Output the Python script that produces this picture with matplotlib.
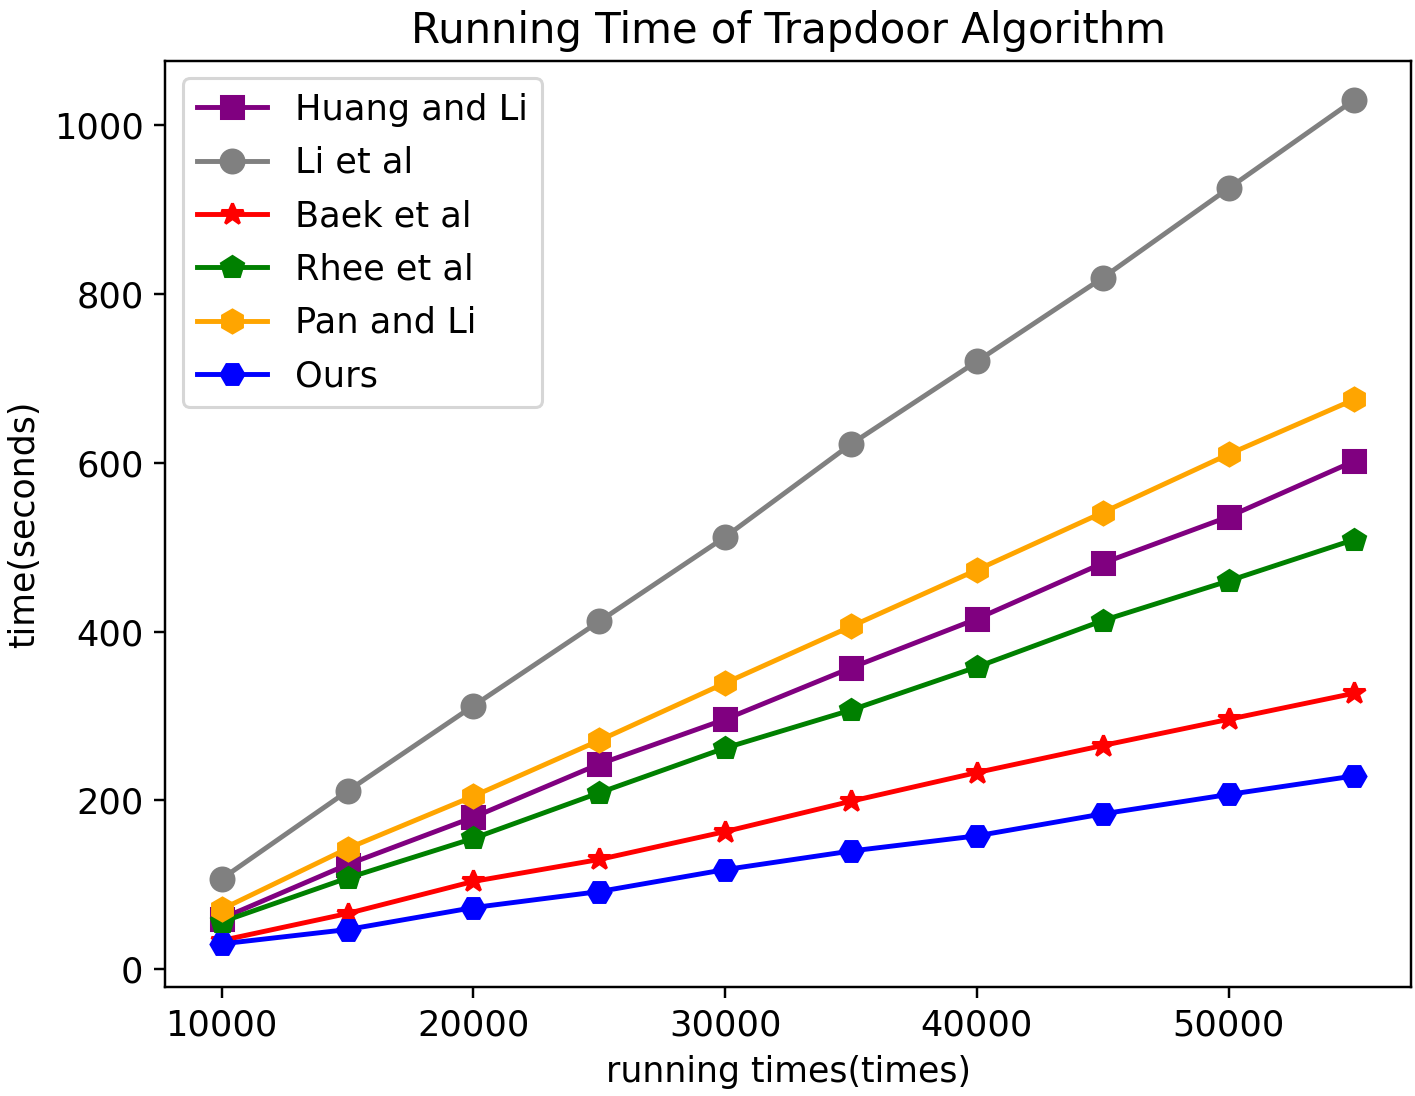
import matplotlib
matplotlib.use('Agg')
import matplotlib.pyplot as plt

runs = [10000, 15000, 20000, 25000, 30000, 35000, 40000, 45000, 50000, 55000]

huang_li = [60, 124, 180, 243, 296, 357, 415, 481, 536, 602]
li_et_al = [107, 211, 312, 412, 512, 622, 720, 819, 925, 1030]
baek_et_al = [34, 66, 104, 130, 163, 199, 233, 265, 296, 327]
rhee_et_al = [56, 108, 155, 209, 262, 307, 358, 413, 460, 509]
pan_li = [71, 143, 205, 271, 339, 406, 473, 541, 610, 675]
ours = [30, 47, 73, 92, 118, 140, 158, 184, 207, 229]

plt.rcParams['xtick.labelsize'] = 11.5
plt.rcParams['ytick.labelsize'] = 11.5
plt.rcParams['lines.markersize'] = 7.5
plt.rcParams['lines.linewidth'] = 1.6

fig = plt.figure(figsize=(6.432, 4.982), dpi=220)
ax = fig.add_axes([0.1166, 0.0995, 0.8806, 0.8449])

ax.plot(runs, huang_li, color='purple', marker='s', label='Huang and Li')
ax.plot(runs, li_et_al, color='gray', marker='o', label='Li et al')
ax.plot(runs, baek_et_al, color='red', marker='*', label='Baek et al')
ax.plot(runs, rhee_et_al, color='green', marker='p', label='Rhee et al')
ax.plot(runs, pan_li, color='orange', marker='h', label='Pan and Li')
ax.plot(runs, ours, color='blue', marker='H', label='Ours')

ax.set_ylim(-21, 1076)
ax.set_title('Running Time of Trapdoor Algorithm', fontsize=13.7)
ax.set_xlabel('running times(times)', fontsize=11.4)
ax.set_ylabel('time(seconds)', fontsize=11.4)
ax.legend(loc='upper left', fontsize=11.5, labelspacing=0.55)

fig.savefig('out.png', dpi=220)
